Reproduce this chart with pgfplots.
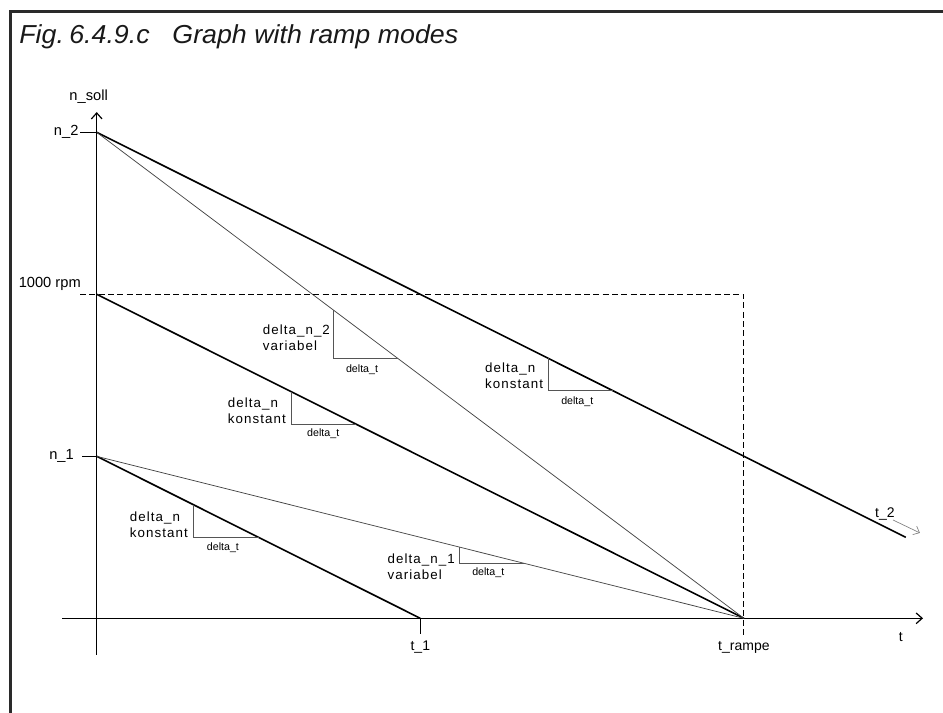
\documentclass[border=0pt]{standalone}
\usepackage{pgfplots}
\pgfplotsset{compat=1.18}
\usepackage{graphicx}
\usepackage{fontspec}
\setmainfont{Liberation Sans}
\newfontfamily\spaced[LetterSpace=8]{Liberation Sans}
\usetikzlibrary{arrows.meta}
\definecolor{txt}{HTML}{2E2E2E}
\definecolor{thinl}{HTML}{444444}
\definecolor{tri}{HTML}{555555}
\definecolor{frame}{HTML}{2A2A2A}
\begin{document}
\begin{tikzpicture}
\useasboundingbox (-72.53pt,-70.87pt) rectangle (634.71pt,463.73pt);
\begin{axis}[
  x=121.35pt, y=121.5pt,
  anchor=origin, at={(0pt,0pt)},
  xmin=-0.214, xmax=5.107, ymin=-0.225, ymax=3.125,
  axis lines=middle,
  axis line style={line width=0.9pt, black, -{Straight Barb[length=4.5pt,width=8pt]}},
  ticks=none,
  clip=false,
  every node/.append style={text=txt},
]
% frame
\draw[frame, line width=2.4pt] (axis cs:-0.5328,-0.7) -- (axis cs:-0.5328,3.7451) -- (axis cs:5.4,3.7451);
% title
\node[anchor=base west, inner sep=0pt, text=black!90] at (axis cs:-0.480,3.548)
  {\scalebox{1.03}[1]{\fontsize{19.5}{22}\selectfont\itshape Fig.\hspace{0.2em}6.4.9.c\hspace{0.85em}Graph with ramp modes}};

% main ramps (constant slope, thick)
\addplot[black, line width=1.2pt] coordinates {(0,3) (5,0.5)};
\addplot[black, line width=1.2pt] coordinates {(0,2) (4,0)};
\addplot[black, line width=1.2pt] coordinates {(0,1) (2,0)};
% variable ramps (thin)
\addplot[thinl, line width=0.55pt] coordinates {(0,3) (4,0)};
\addplot[thinl, line width=0.55pt] coordinates {(0,1) (4,0)};
% 1000 rpm dashed + t_rampe dashed
\addplot[black, line width=0.7pt, dash pattern=on 4.5pt off 2.5pt] coordinates {(-0.103,2) (4,2) (4,-0.103)};
% ticks
\addplot[black, line width=0.9pt] coordinates {(-0.103,3) (0,3)};
\addplot[black, line width=0.9pt] coordinates {(-0.09,1) (0,1)};
\addplot[black, line width=0.9pt] coordinates {(2,0) (2,-0.097)};
% slope triangles
\addplot[tri, line width=0.55pt] coordinates {(2.789,1.6055) (2.789,1.405) (3.19,1.405)};
\addplot[tri, line width=0.55pt] coordinates {(1.463,1.903) (1.463,1.603) (1.863,1.603)};
\addplot[tri, line width=0.55pt] coordinates {(1.2,1.4) (1.2,1.2) (1.6,1.2)};
\addplot[tri, line width=0.55pt] coordinates {(0.6,0.7) (0.6,0.5) (1.0,0.5)};
\addplot[tri, line width=0.55pt] coordinates {(2.24,0.44) (2.24,0.34) (2.64,0.34)};
% t_2 arrow
\draw[gray, line width=0.5pt, -{Straight Barb[length=4pt,width=7pt]}] (axis cs:4.921,0.607) -- (axis cs:5.088,0.527);

% axis labels
\node[anchor=base, inner sep=0pt, font=\fontsize{11}{13}\selectfont] at (axis cs:-0.05,3.199) {n\_soll};
\node[anchor=east, inner sep=1pt, font=\fontsize{11}{13}\selectfont] at (axis cs:-0.103,3.0) {n\_2};
\node[anchor=base east, inner sep=0pt, font=\fontsize{11}{13}\selectfont] at (axis cs:-0.097,2.043) {1000 rpm};
\node[anchor=east, inner sep=0pt, font=\fontsize{11}{13}\selectfont] at (axis cs:-0.14,1.0) {n\_1};
\node[inner sep=0pt, font=\fontsize{10.5}{12}\selectfont] at (axis cs:2,-0.175) {t\_1};
\node[inner sep=0pt, font=\fontsize{10.5}{12}\selectfont] at (axis cs:4,-0.18) {t\_rampe};
\node[inner sep=0pt, font=\fontsize{10.5}{12}\selectfont] at (axis cs:4.97,-0.115) {t};
\node[inner sep=0pt, font=\fontsize{10.5}{12}\selectfont] at (axis cs:4.871,0.644) {t\_2};

% triangle labels
\node[anchor=east, align=left, inner sep=0pt, font=\spaced\fontsize{10}{12}\selectfont] at (axis cs:2.76,1.495) {delta\_n\\konstant};
\node[inner sep=0pt, font=\fontsize{8}{9}\selectfont] at (axis cs:2.97,1.336) {delta\_t};
\node[anchor=east, align=left, inner sep=0pt, font=\spaced\fontsize{10}{12}\selectfont] at (axis cs:1.443,1.73) {delta\_n\_2\\variabel};
\node[inner sep=0pt, font=\fontsize{8}{9}\selectfont] at (axis cs:1.64,1.537) {delta\_t};
\node[anchor=east, align=left, inner sep=0pt, font=\spaced\fontsize{10}{12}\selectfont] at (axis cs:1.17,1.283) {delta\_n\\konstant};
\node[inner sep=0pt, font=\fontsize{8}{9}\selectfont] at (axis cs:1.4,1.137) {delta\_t};
\node[anchor=east, align=left, inner sep=0pt, font=\spaced\fontsize{10}{12}\selectfont] at (axis cs:0.565,0.576) {delta\_n\\konstant};
\node[inner sep=0pt, font=\fontsize{8}{9}\selectfont] at (axis cs:0.78,0.434) {delta\_t};
\node[anchor=east, align=left, inner sep=0pt, font=\spaced\fontsize{10}{12}\selectfont] at (axis cs:2.215,0.32) {delta\_n\_1\\variabel};
\node[inner sep=0pt, font=\fontsize{8}{9}\selectfont] at (axis cs:2.42,0.28) {delta\_t};
\end{axis}
\end{tikzpicture}
\end{document}
